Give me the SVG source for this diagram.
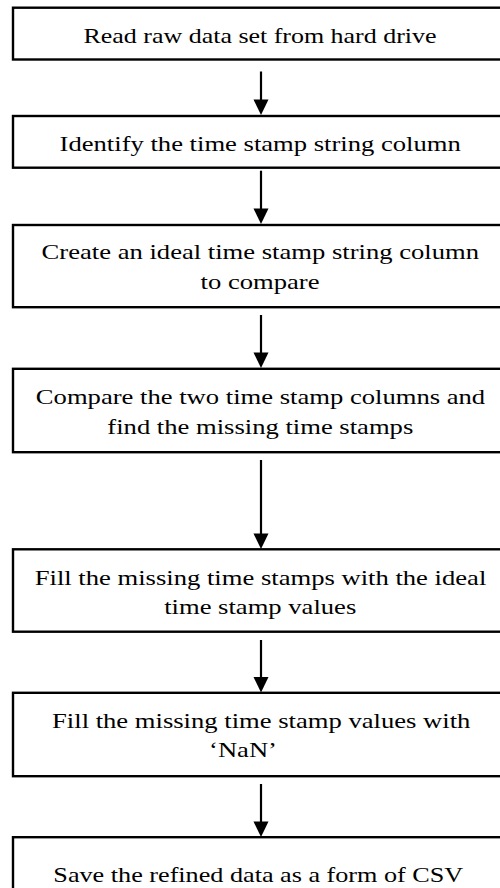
<svg xmlns="http://www.w3.org/2000/svg" width="500" height="888" viewBox="0 0 500 888">
<style>
.box{fill:#fff;stroke:#000;stroke-width:2.4}
.t{font-family:"Liberation Serif","Times New Roman",serif;font-size:22px;fill:#000;text-anchor:middle}
.ln{stroke:#000;stroke-width:2.2;fill:none}
.hd{fill:#000}
</style>
<rect width="500" height="888" fill="#fff"/>
<g id="n1"><rect class="box" x="13" y="7.7" width="495" height="51.8"/><text class="t" transform="translate(260,42.7) scale(1.18,1)">Read raw data set from hard drive</text></g>
<g id="n2"><rect class="box" x="13" y="116" width="495" height="51.7"/><text class="t" transform="translate(260.2,150.5) scale(1.21,1)">Identify the time stamp string column</text></g>
<g id="n3"><rect class="box" x="13" y="225" width="495" height="82.2"/><text class="t" transform="translate(260.3,259.3) scale(1.21,1)">Create an ideal time stamp string column</text><text class="t" transform="translate(260,289.3) scale(1.21,1)">to compare</text></g>
<g id="n4"><rect class="box" x="13" y="368.8" width="495" height="83.4"/><text class="t" transform="translate(260.5,404) scale(1.21,1)">Compare the two time stamp columns and</text><text class="t" transform="translate(260.3,434) scale(1.21,1)">find the missing time stamps</text></g>
<g id="n5"><rect class="box" x="13" y="549.3" width="495" height="82.4"/><text class="t" transform="translate(260.5,584.5) scale(1.21,1)">Fill the missing time stamps with the ideal</text><text class="t" transform="translate(260.2,614) scale(1.21,1)">time stamp values</text></g>
<g id="n6"><rect class="box" x="13" y="692.8" width="495" height="83.4"/><text class="t" transform="translate(261.2,727.5) scale(1.21,1)">Fill the missing time stamp values with</text><text class="t" transform="translate(243,757) scale(1.21,1)">‘NaN’</text></g>
<g id="n7"><rect class="box" x="13" y="837.2" width="495" height="80"/><text class="t" transform="translate(258.3,882) scale(1.19,1)">Save the refined data as a form of CSV</text></g>
<g id="connectors">
<line class="ln" x1="261" y1="71.5" x2="261" y2="101"/><polygon class="hd" points="253.5,99.5 268.5,99.5 261,115"/>
<line class="ln" x1="261" y1="170.7" x2="261" y2="210"/><polygon class="hd" points="253.5,208.5 268.5,208.5 261,224"/>
<line class="ln" x1="261" y1="315" x2="261" y2="354"/><polygon class="hd" points="253.5,352.5 268.5,352.5 261,368"/>
<line class="ln" x1="261" y1="460" x2="261" y2="535"/><polygon class="hd" points="253.5,533.5 268.5,533.5 261,549"/>
<line class="ln" x1="261" y1="640" x2="261" y2="678"/><polygon class="hd" points="253.5,677 268.5,677 261,692.5"/>
<line class="ln" x1="261" y1="784" x2="261" y2="823"/><polygon class="hd" points="253.5,821.5 268.5,821.5 261,837"/>
</g>
</svg>
